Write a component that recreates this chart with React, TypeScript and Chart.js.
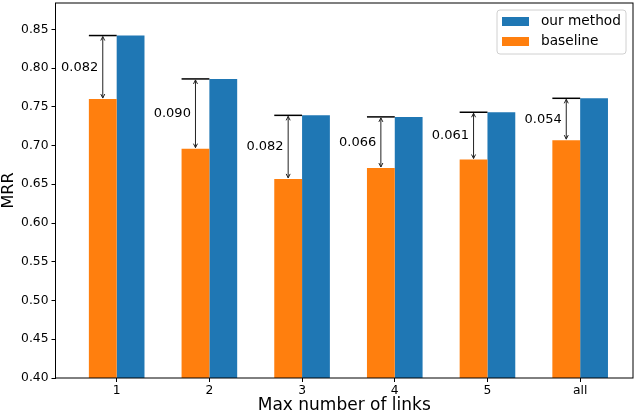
import { useEffect, useRef } from 'react';
import { Chart, registerables } from 'chart.js';

Chart.register(...registerables);

const categories = ['1', '2', '3', '4', '5', 'all'];
const ourMethod = [0.842, 0.786, 0.739, 0.737, 0.743, 0.761];
const baseline = [0.76, 0.696, 0.657, 0.671, 0.682, 0.707];
const yTicks = [0.4, 0.45, 0.5, 0.55, 0.6, 0.65, 0.7, 0.75, 0.8, 0.85];

const BLUE = '#1f77b4';
const ORANGE = '#ff7f0e';
const FONT = '"DejaVu Sans", sans-serif';

// annotations, frame, legend and axis titles, matplotlib style
const overlay = {
  id: 'overlay',
  afterDatasetsDraw(chart: Chart) {
    const { ctx, chartArea } = chart;
    const x = chart.scales.x;
    const y = chart.scales.y;
    ctx.save();
    categories.forEach((_, i) => {
      const top = y.getPixelForValue(ourMethod[i]);
      const bottom = y.getPixelForValue(baseline[i]);
      // horizontal line at the level of our method, over the baseline bar
      ctx.strokeStyle = '#000';
      ctx.lineWidth = 1.5;
      ctx.beginPath();
      ctx.moveTo(x.getPixelForValue(i - 0.3), top);
      ctx.lineTo(x.getPixelForValue(i), top);
      ctx.stroke();
      // double arrow
      const ax = x.getPixelForValue(i - 0.15);
      ctx.strokeStyle = '#222';
      ctx.lineWidth = 1;
      ctx.beginPath();
      ctx.moveTo(ax, top + 1);
      ctx.lineTo(ax, bottom - 1);
      ctx.moveTo(ax - 2, top + 5);
      ctx.lineTo(ax, top + 1);
      ctx.lineTo(ax + 2, top + 5);
      ctx.moveTo(ax - 2, bottom - 5);
      ctx.lineTo(ax, bottom - 1);
      ctx.lineTo(ax + 2, bottom - 5);
      ctx.stroke();
      // difference label
      ctx.fillStyle = '#000';
      ctx.font = `13px ${FONT}`;
      ctx.textAlign = 'center';
      ctx.textBaseline = 'middle';
      ctx.fillText(
        (ourMethod[i] - baseline[i]).toFixed(3),
        x.getPixelForValue(i - 0.4),
        y.getPixelForValue((ourMethod[i] + baseline[i]) / 2),
      );
    });

    // frame
    ctx.strokeStyle = '#000';
    ctx.lineWidth = 1;
    ctx.strokeRect(
      chartArea.left,
      chartArea.top,
      chartArea.right - chartArea.left,
      chartArea.bottom - chartArea.top,
    );

    // legend
    const lx = 497;
    const ly = 10;
    const lw = 129;
    const lh = 44;
    ctx.fillStyle = 'rgba(255,255,255,0.8)';
    ctx.strokeStyle = '#d0d0d0';
    ctx.beginPath();
    ctx.roundRect(lx, ly, lw, lh, 3);
    ctx.fill();
    ctx.stroke();
    const items = [
      { label: 'our method', color: BLUE },
      { label: 'baseline', color: ORANGE },
    ];
    ctx.font = `13.7px ${FONT}`;
    ctx.textAlign = 'left';
    ctx.textBaseline = 'middle';
    items.forEach((item, k) => {
      const cy = 21.5 + k * 20;
      ctx.fillStyle = item.color;
      ctx.fillRect(502, cy - 4.5, 27, 9);
      ctx.fillStyle = '#000';
      ctx.fillText(item.label, 541, cy);
    });

    // axis titles
    ctx.font = `17px ${FONT}`;
    ctx.textAlign = 'center';
    ctx.textBaseline = 'middle';
    ctx.fillText('Max number of links', (chartArea.left + chartArea.right) / 2, 406);
    ctx.save();
    ctx.translate(9, (chartArea.top + chartArea.bottom) / 2);
    ctx.rotate(-Math.PI / 2);
    ctx.font = `16px ${FONT}`;
    ctx.fillText('MRR', 0, 0);
    ctx.restore();
    ctx.restore();
  },
};

const App = () => {
  const canvasRef = useRef<HTMLCanvasElement | null>(null);
  const chartRef = useRef<Chart | null>(null);

  useEffect(() => {
    if (!canvasRef.current) return;
    chartRef.current?.destroy();

    chartRef.current = new Chart(canvasRef.current, {
      type: 'bar',
      data: {
        datasets: [
          {
            label: 'baseline',
            data: baseline.map((v, i) => ({ x: i, y: v })),
            backgroundColor: ORANGE,
          },
          {
            label: 'our method',
            data: ourMethod.map((v, i) => ({ x: i, y: v })),
            backgroundColor: BLUE,
          },
        ],
      },
      options: {
        animation: false,
        responsive: true,
        maintainAspectRatio: false,
        layout: { padding: { top: 3, right: 4, left: 0, bottom: 0 } },
        datasets: { bar: { categoryPercentage: 0.6, barPercentage: 1 } },
        plugins: { legend: { display: false }, tooltip: { enabled: false } },
        scales: {
          x: {
            type: 'linear',
            min: -0.66,
            max: 5.57,
            offset: false,
            border: { display: false },
            grid: {
              offset: false,
              drawOnChartArea: false,
              drawTicks: true,
              tickLength: 4,
              color: '#000',
            },
            afterBuildTicks: (scale: any) => {
              scale.ticks = categories.map((_, i) => ({ value: i }));
            },
            afterFit: (scale: any) => {
              scale.height = 38;
              scale.paddingLeft = 0;
              scale.paddingRight = 0;
            },
            ticks: {
              padding: 1,
              color: '#000',
              font: { family: FONT, size: 12.3 },
              callback: (v: any) => categories[Math.round(Number(v))] ?? '',
            },
          },
          y: {
            min: 0.4,
            max: 0.884,
            border: { display: false },
            grid: { drawOnChartArea: false, drawTicks: true, tickLength: 4, color: '#000' },
            afterBuildTicks: (scale: any) => {
              scale.ticks = yTicks.map((v) => ({ value: v }));
            },
            afterFit: (scale: any) => {
              scale.width = 55.5;
              scale.paddingTop = 0;
              scale.paddingBottom = 0;
            },
            ticks: {
              padding: 3,
              color: '#000',
              font: { family: FONT, size: 12.3 },
              callback: (v: any) => Number(v).toFixed(2),
            },
          },
        },
      },
      plugins: [overlay],
    });

    return () => chartRef.current?.destroy();
  }, []);

  return (
    <div style={{ position: 'absolute', left: 0, top: 0, width: 637, height: 416, background: '#fff' }}>
      <canvas ref={canvasRef} />
    </div>
  );
};

export default App;
